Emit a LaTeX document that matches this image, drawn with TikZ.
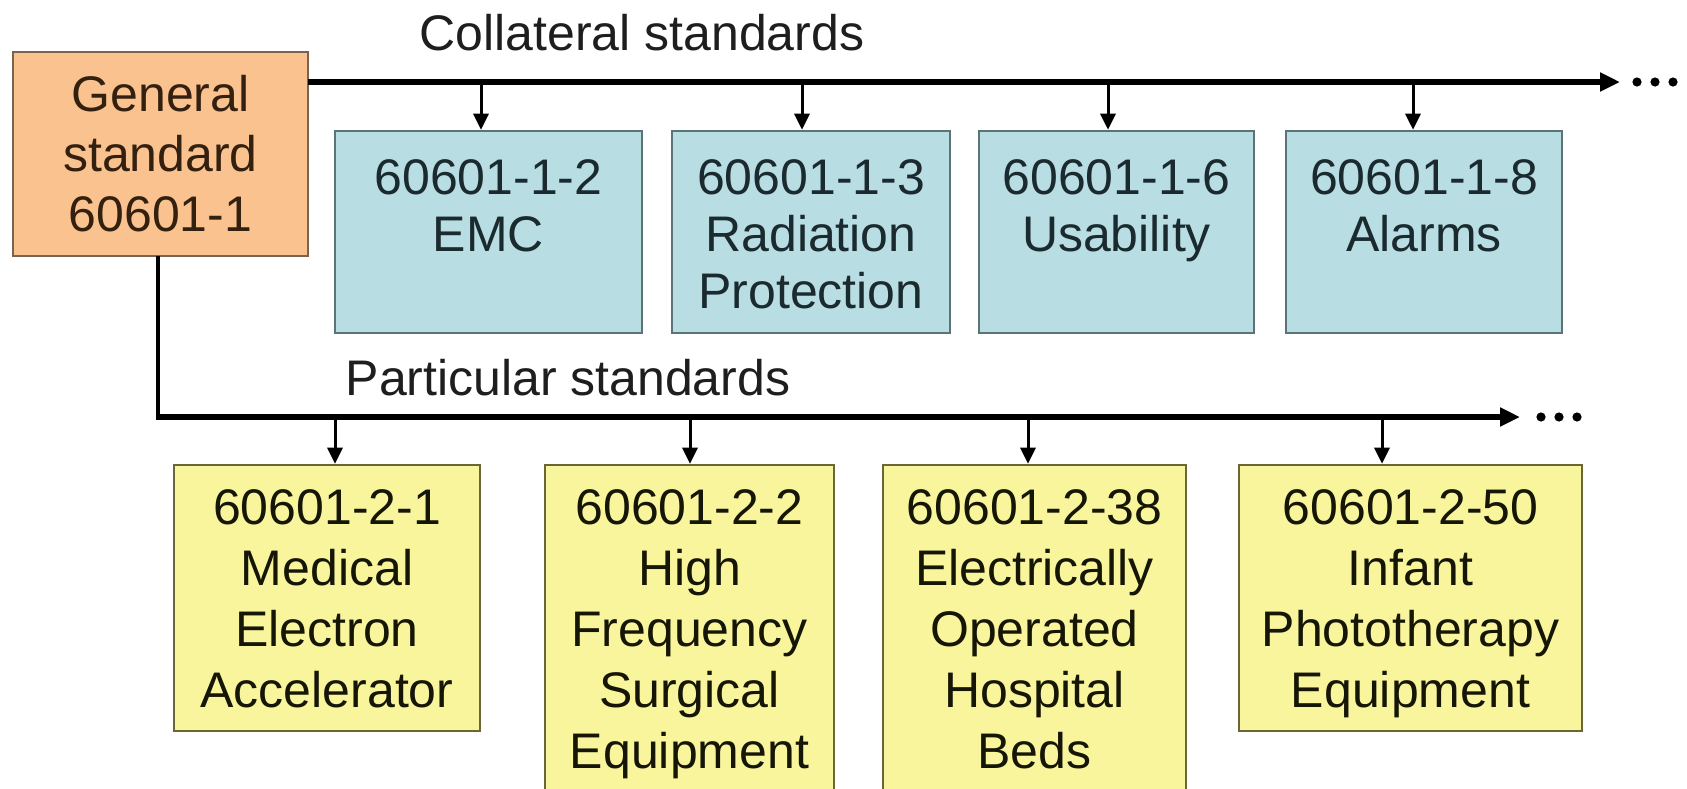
\documentclass[tikz,border=0pt]{standalone}
\usepackage{fontspec}
\setmainfont{Liberation Sans}
\usetikzlibrary{arrows.meta,fit,calc}
\definecolor{orangefill}{HTML}{FAC28F}
\definecolor{orangeedge}{HTML}{7A6350}
\definecolor{bluefill}{HTML}{B8DEE4}
\definecolor{blueedge}{HTML}{5A7478}
\definecolor{yellowfill}{HTML}{F9F59C}
\definecolor{yellowedge}{HTML}{6A6638}
\definecolor{gtext}{HTML}{33200F}
\definecolor{btext}{HTML}{1A2A2E}
\definecolor{ytext}{HTML}{161606}
\definecolor{ltext}{HTML}{1E1E1E}
\begin{document}
\begin{tikzpicture}[x=0.5pt,y=-0.5pt,
  gbox/.style={draw=orangeedge, fill=orangefill, line width=1.3pt, inner sep=0pt},
  cbox/.style={draw=blueedge, fill=bluefill, line width=1.3pt, inner sep=0pt},
  ybox/.style={draw=yellowedge, fill=yellowfill, line width=1.3pt, inner sep=0pt},
  gtxt/.style={inner sep=0pt, align=center, text=gtext, font=\fontsize{25pt}{30pt}\selectfont},
  ctxt/.style={inner sep=0pt, align=center, text=btext, anchor=north, font=\fontsize{25pt}{28.5pt}\selectfont},
  ytxt/.style={inner sep=0pt, align=center, text=ytext, anchor=north, font=\fontsize{25pt}{30.5pt}\selectfont},
  lbl/.style={inner sep=0pt, anchor=base, text=ltext, font=\fontsize{25pt}{30pt}\selectfont},
  mline/.style={line width=2.6pt, -{Triangle[length=10pt,width=9pt]}},
  vline/.style={line width=2.2pt},
  darr/.style={line width=1.5pt, -{Triangle[length=8pt,width=7.5pt]}},
  ellip/.style={circle, fill=black, inner sep=0pt, minimum size=4.6pt}]
\useasboundingbox (0,0) rectangle (1687,788);
\clip (0,0) rectangle (1687,788);
\fill[white] (0,0) rectangle (1687,788);

% general standard
\node[gbox, fit={(13,52) (308,256)}] (g) {};
\node[gtxt] (gt) at (g.center) {General\\standard\\60601-1};

% labels
\node[lbl] (coll) at (642,50) {Collateral standards};
\node[lbl] (part) at (568,395) {Particular standards};

% collateral boxes
\node[cbox, fit={(335,131) (642,333)}] (c1) {};
\node[cbox, fit={(672,131) (950,333)}] (c2) {};
\node[cbox, fit={(979,131) (1254,333)}] (c3) {};
\node[cbox, fit={(1286,131) (1562,333)}] (c4) {};
\node[ctxt] (c1t) at ($(c1.north)+(0,29)$) {60601-1-2\\EMC};
\node[ctxt] (c2t) at ($(c2.north)+(0,29)$) {60601-1-3\\Radiation\\Protection};
\node[ctxt] (c3t) at ($(c3.north)+(0,29)$) {60601-1-6\\Usability};
\node[ctxt] (c4t) at ($(c4.north)+(0,29)$) {60601-1-8\\Alarms};

% particular boxes
\node[ybox, fit={(174,465) (480,731)}] (y1) {};
\node[ybox, fit={(545,465) (834,820)}] (y2) {};
\node[ybox, fit={(883,465) (1186,820)}] (y3) {};
\node[ybox, fit={(1239,465) (1582,731)}] (y4) {};
\node[ytxt] (y1t) at ($(y1.north)+(0,25)$) {60601-2-1\\Medical\\Electron\\Accelerator};
\node[ytxt] (y2t) at ($(y2.north)+(0,25)$) {60601-2-2\\High\\Frequency\\Surgical\\Equipment};
\node[ytxt] (y3t) at ($(y3.north)+(0,25)$) {60601-2-38\\Electrically\\Operated\\Hospital\\Beds};
\node[ytxt] (y4t) at ($(y4.north)+(0,25)$) {60601-2-50\\Infant\\Phototherapy\\Equipment};

% top bus
\coordinate (ts) at (308,82);
\coordinate (te) at (1620,82);
\draw[mline] (ts) -- (te);
\coordinate (a1) at (481,82);
\coordinate (a2) at (802,82);
\coordinate (a3) at (1108,82);
\coordinate (a4) at (1413,82);
\draw[darr] (a1) -- (a1 |- c1.north);
\draw[darr] (a2) -- (a2 |- c2.north);
\draw[darr] (a3) -- (a3 |- c3.north);
\draw[darr] (a4) -- (a4 |- c4.north);
\node[ellip] (td1) at (1637,82) {};
\node[ellip] (td2) at (1655,82) {};
\node[ellip] (td3) at (1673,82) {};

% bottom bus
\coordinate (gv) at (158,256);
\coordinate (bc) at (158,417);
\coordinate (be) at (1520,417);
\draw[vline] (gv) -- (bc);
\draw[mline] ($(bc)+(-2.2,0)$) -- (be);
\coordinate (b1) at (335,417);
\coordinate (b2) at (690,417);
\coordinate (b3) at (1028,417);
\coordinate (b4) at (1382,417);
\draw[darr] (b1) -- (b1 |- y1.north);
\draw[darr] (b2) -- (b2 |- y2.north);
\draw[darr] (b3) -- (b3 |- y3.north);
\draw[darr] (b4) -- (b4 |- y4.north);
\node[ellip] (bd1) at (1541,417) {};
\node[ellip] (bd2) at (1559,417) {};
\node[ellip] (bd3) at (1577,417) {};
\end{tikzpicture}
\end{document}
